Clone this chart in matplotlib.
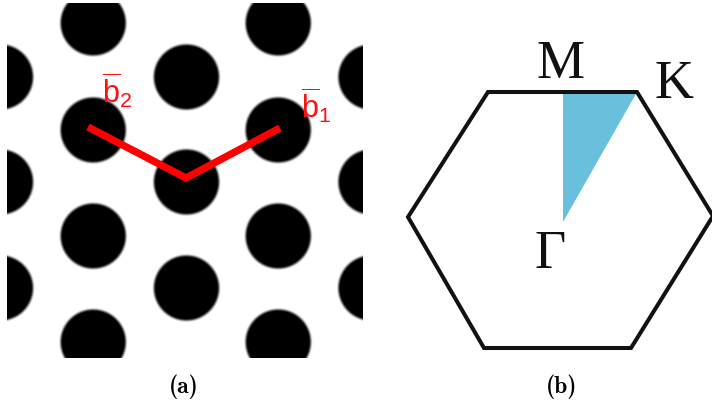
import os
import numpy as np
import matplotlib
matplotlib.use("Agg")
import matplotlib.pyplot as plt
from matplotlib.patches import Polygon
from matplotlib.font_manager import FontProperties

plt.rcParams["mathtext.fontset"] = "custom"
plt.rcParams["mathtext.rm"] = "Liberation Sans"
plt.rcParams["mathtext.it"] = "Liberation Sans:italic"

# ---- panel (a): hole lattice (pixel units of the panel) ----
hole_x = [93, 277.5, 93, 277.5, 93, 277.5, 93, 277.5,
          186, 186, 186,
          0.5, 0.5, 0.5, 370, 370, 370]
hole_y = [23, 23, 130, 130, 236, 236, 342, 342,
          77, 182, 288,
          77, 182, 288, 77, 182, 288]
hole_radius = 32.5
edge_blur = 4.0

# reciprocal vectors drawn as a red path b2 -> origin -> b1
vec_x = [88, 186, 280]
vec_y = [127, 178, 128]
vec_labels = [r"$\overline{\mathrm{b}}_2$", r"$\overline{\mathrm{b}}_1$"]
vec_label_x = [117, 316]
vec_label_y = [103, 118]

# ---- panel (b): Brillouin zone ----
zone_x = [488, 637, 713, 631, 484, 408]
zone_y = [92, 92, 216, 348, 348, 217]
wedge_x = [563, 563, 637]
wedge_y = [222, 92, 92]
point_names = ["M", "K", "Γ"]
point_x = [561, 674, 550]
point_y = [78, 98, 268]

captions = ["(a)", "(b)"]
caption_x = [184, 562]

W, H = 712, 405
fig = plt.figure(figsize=(W / 100, H / 100), dpi=100)

# panel (a)
x0, x1, y0, y1 = 7, 362, 3, 358
axa = fig.add_axes([x0 / W, 1 - y1 / H, (x1 - x0) / W, (y1 - y0) / H])
gx = np.arange(x0, x1, 0.5) + 0.25
gy = np.arange(y0, y1, 0.5) + 0.25
XX, YY = np.meshgrid(gx, gy)
dmin = np.full(XX.shape, np.inf)
for cx, cy in zip(hole_x, hole_y):
    dmin = np.minimum(dmin, np.hypot(XX - cx, YY - cy))
t = np.clip((dmin - hole_radius) / edge_blur + 0.5, 0, 1)
img = t * t * (3 - 2 * t)
axa.imshow(img, cmap="gray", vmin=0, vmax=1, extent=[x0, x1, y1, y0],
           interpolation="bilinear", aspect="auto")
axa.plot(vec_x, vec_y, color="#ff0000", lw=5.3,
         solid_joinstyle="miter", solid_capstyle="butt")
for lab, lx, ly in zip(vec_labels, vec_label_x, vec_label_y):
    axa.text(lx, ly, lab, color="#ff1010", fontsize=22, ha="center",
             va="baseline")
axa.set_xlim(x0, x1)
axa.set_ylim(y1, y0)
axa.axis("off")

# panel (b)
axb = fig.add_axes([380 / W, 0, (W - 380) / W, 1])
axb.add_patch(Polygon(list(zip(wedge_x, wedge_y)), closed=True,
                      facecolor="#68c0dc", edgecolor="none", zorder=1))
axb.add_patch(Polygon(list(zip(zone_x, zone_y)), closed=True,
                      facecolor="none", edgecolor="#111111", lw=2.9,
                      joinstyle="miter", zorder=2))
for name, px, py in zip(point_names, point_x, point_y):
    axb.text(px, py, name, fontsize=39, family="Liberation Serif",
             color="#111111", ha="center", va="baseline")
axb.set_xlim(380, W)
axb.set_ylim(H, 0)
axb.axis("off")

# captions in Computer Modern bold
cmb = FontProperties(fname=os.path.join(matplotlib.get_data_path(),
                                        "fonts", "ttf", "cmb10.ttf"),
                     size=17)
for cap, cx in zip(captions, caption_x):
    fig.text(cx / W, 1 - 387 / H, cap, fontproperties=cmb, ha="center",
             va="center")

fig.savefig("out.png", dpi=100)
